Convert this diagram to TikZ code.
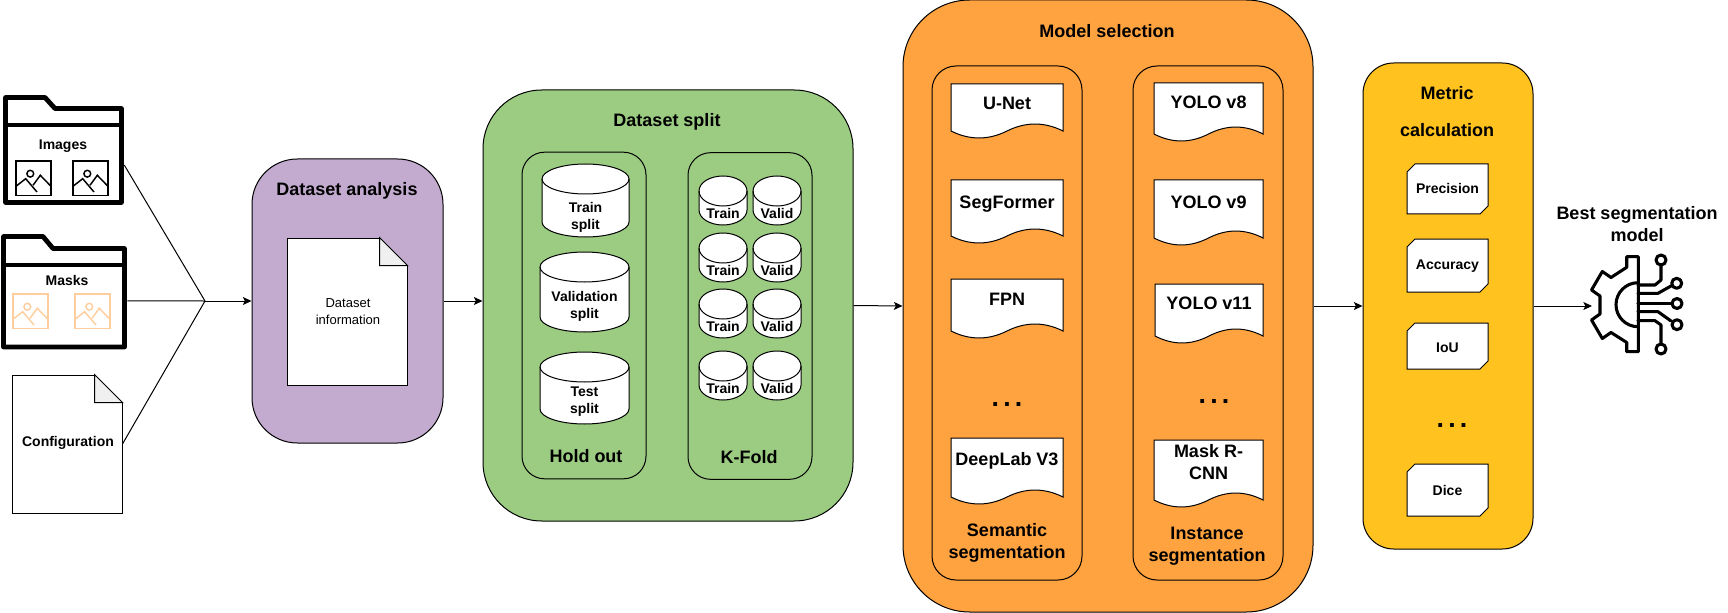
\documentclass[tikz,border=0pt]{standalone}
\usepackage{fontspec}
\setmainfont{Liberation Sans}
\usetikzlibrary{arrows.meta,shapes.misc}

\definecolor{analysisfill}{HTML}{C3ABD0}
\definecolor{splitfill}{HTML}{9BCC82}
\definecolor{modelfill}{HTML}{FFA240}
\definecolor{metricfill}{HTML}{FFC21E}
\definecolor{foldgray}{HTML}{F0F0F0}
\definecolor{maskicon}{HTML}{FFCE9F}

\tikzset{
  boxline/.style={draw=black,line width=0.75pt},
  conn/.style={draw=black,line width=0.75pt},
  arrowconn/.style={conn,-{Stealth[length=6.5pt,width=6pt,inset=1.5pt]}},
  stage/.style={boxline,rectangle,inner sep=0pt},
  subbox/.style={stage,rounded corners=17pt,minimum width=93pt,minimum height=245pt},
  segbox/.style={stage,rounded corners=18pt,minimum width=112.5pt,minimum height=385.5pt},
  bigtext/.style={font=\fontsize{13.5}{16.5}\selectfont\bfseries,align=center,inner sep=0pt},
  smalltext/.style={font=\fontsize{10.5}{12.75}\selectfont\bfseries,align=center,inner sep=0pt},
  dottext/.style={font=\fontsize{20}{22}\selectfont\bfseries,inner sep=0pt,anchor=base},
  notebody/.style={boxline,fill=white,rectangle,inner sep=0pt},
  metriccard/.style={boxline,fill=white,chamfered rectangle,
    chamfered rectangle corners={north west,south east},chamfered rectangle sep=9pt,
    inner sep=0pt,minimum width=60.75pt},
  foldershape/.style={draw=black,line width=3.6pt,line join=round},
  iconline/.style={line width=1.1pt},
  gearline/.style={draw=black,line width=2.3pt,line join=round,line cap=round}
}

% folder outline: x left, x right, tab top, body top, divider, bottom, tab end
\newcommand{\drawfolder}[7]{
  \draw[foldershape] (#1,#3) -- (#7,#3) -- ({#7+10},#4) -- (#2,#4) -- (#2,#6) -- (#1,#6) -- cycle;
  \draw[foldershape] (#1,#5) -- (#2,#5);
}
% small picture icon: x, y, colour
\newcommand{\drawicon}[3]{
  \begin{scope}[shift={(#1,#2)},iconline,draw=#3]
    \draw (0,0) rectangle (35,34.5);
    \draw (14.3,12.7) circle (3.4);
    \draw (0,25.3) -- (9.7,17.7) -- (21,31);
    \draw (17,24.3) -- (24.3,14.3) -- (35,25.3);
  \end{scope}
}
% folded corner of a note: node, colour behind it
\newcommand{\notefold}[2]{
  \fill[#2] ([shift={(-28,-1.5)}]#1.north east) rectangle ([shift={(1.5,28)}]#1.north east);
  \draw[boxline,fill=foldgray] ([xshift=-21pt]#1.north east) -- ([yshift=-21pt]#1.north east)
    -- ([shift={(-28,28)}]#1.north east) -- cycle;
}
% cylinder: name, x left, x right, y top, y bottom, text, y text
\newcommand{\drawdb}[7]{
  \draw[boxline,fill=white] (#2,{#4+15}) arc[start angle=180,end angle=360,x radius={(#3-#2)/2},y radius=15]
    -- (#3,{#5-15}) arc[start angle=0,end angle=180,x radius={(#3-#2)/2},y radius=15] -- cycle;
  \draw[boxline] (#2,{#4+15}) arc[start angle=180,end angle=0,x radius={(#3-#2)/2},y radius=15];
  \node[smalltext] (#1) at ({(#2+#3)/2},#7) {#6};
}
% wavy document: name, x left, x right, y top, y bottom, text, y text
\newcommand{\drawdoc}[7]{
  \draw[boxline,fill=white] (#2,#4) -- (#3,#4) -- (#3,{#5-7})
    .. controls ({#3-(#3-#2)/6},{#5-16.3}) and ({#3-(#3-#2)/3},{#5-16.3}) .. ({(#2+#3)/2},{#5-7})
    .. controls ({#2+(#3-#2)/3},{#5+2.3}) and ({#2+(#3-#2)/6},{#5+2.3}) .. (#2,{#5-7}) -- cycle;
  \node[bigtext] (#1) at ({(#2+#3)/2},#7) {#6};
}
\newcommand{\threedots}{.\kern3.2pt.\kern3.2pt.}

\begin{document}
\begin{tikzpicture}[x=0.75pt,y=-0.75pt]
  \useasboundingbox (0,0) rectangle (1728,613);

  % input folders
  \node[minimum width=90.75pt,minimum height=82.5pt,inner sep=0pt] (images) at (63.5,150) {};
  \drawfolder{5.5}{121.5}{97.5}{108.5}{125}{202.5}{45}
  \node[smalltext] (imagesText) at (63,146.5) {Images};
  \drawicon{16}{161}{black}
  \drawicon{73}{161}{black}

  \node[minimum width=94.5pt,minimum height=86.25pt,inner sep=0pt] (masks) at (64,291.5) {};
  \drawfolder{3.5}{124.5}{236.5}{248.5}{265}{347}{43}
  \node[smalltext] (masksText) at (67,280) {Masks};
  \drawicon{13}{294}{maskicon}
  \drawicon{75}{294}{maskicon}

  \node[notebody,smalltext,minimum width=82.5pt,minimum height=103.5pt] (config) at (67,444) {};
  \notefold{config}{white}
  \node[smalltext] (configText) at (68,442.5) {Configuration};

  % dataset analysis
  \node[stage,fill=analysisfill,rounded corners=34pt,minimum width=143.25pt,minimum height=213pt] (analysis) at (347.5,301) {};
  \node[bigtext] (analysisTitle) at (347,191) {Dataset analysis};
  \node[notebody,minimum width=90pt,minimum height=110.25pt] (info) at (347,311.5) {};
  \notefold{info}{analysisfill}
  \node[align=center,inner sep=0pt,font=\fontsize{9.75}{12.75}\selectfont] (infoText) at (348,312) {Dataset\\information};

  % dataset split
  \node[stage,fill=splitfill,rounded corners=44pt,minimum width=277.5pt,minimum height=323.25pt] (split) at (668,305.5) {};
  \node[bigtext] (splitTitle) at (667,122) {Dataset split};
  \node[subbox] (holdout) at (584,315.5) {};
  \node[subbox] (kfold) at (750,316) {};
  \drawdb{trainSplit}{542}{629}{164}{237}{Train\\split}{217.5}
  \drawdb{validSplit}{540}{629}{252}{332}{Validation\\split}{306.5}
  \drawdb{testSplit}{540}{629}{352}{424}{Test\\split}{401.5}
  \node[bigtext] (holdoutText) at (586,456) {Hold out};
  % routine for folds
  \drawdb{trainA}{699}{747}{176}{225}{Train}{213}
  \drawdb{validA}{753}{801}{176}{225}{Valid}{213}
  \drawdb{trainB}{699}{747}{233}{282}{Train}{270}
  \drawdb{validB}{753}{801}{233}{282}{Valid}{270}
  \drawdb{trainC}{699}{747}{289}{338}{Train}{326}
  \drawdb{validC}{753}{801}{289}{338}{Valid}{326}
  \drawdb{trainD}{699}{747}{351}{400}{Train}{388}
  \drawdb{validD}{753}{801}{351}{400}{Valid}{388}
  \node[bigtext] (kfoldText) at (749,457) {K-Fold};

  % model selection
  \node[stage,fill=modelfill,rounded corners=50pt,minimum width=307.5pt,minimum height=459pt] (model) at (1108,306) {};
  \node[bigtext] (modelTitle) at (1107,31) {Model selection};
  \node[segbox] (semantic) at (1007,323) {};
  \node[segbox] (instance) at (1208,323) {};
  \drawdoc{unet}{951}{1063}{84}{138}{U-Net}{103}
  \drawdoc{segformer}{951}{1063}{180}{243}{SegFormer}{204}
  \drawdoc{fpn}{951}{1063}{279}{338}{FPN}{299}
  \node[dottext] (semDots) at (1007,406) {\threedots};
  \drawdoc{deeplab}{951}{1063}{438}{504}{DeepLab V3}{461}
  \node[bigtext] (semanticText) at (1007,542.5) {Semantic\\segmentation};
  \drawdoc{yoloA}{1154}{1263}{83}{141}{YOLO v8}{102.5}
  \drawdoc{yoloB}{1154}{1263}{180}{245}{YOLO v9}{202}
  \drawdoc{yoloC}{1155}{1263}{284}{343}{YOLO v11}{303}
  \node[dottext] (insDots) at (1214,403) {\threedots};
  \drawdoc{maskrcnn}{1154}{1263}{440}{507}{Mask R-\\CNN}{462.5}
  \node[bigtext] (instanceText) at (1207,546) {Instance\\segmentation};

  % metric calculation
  \node[stage,fill=metricfill,rounded corners=23pt,minimum width=127.5pt,minimum height=364.5pt] (metric) at (1448,306) {};
  \node[bigtext] (metricTitleA) at (1447,93) {Metric};
  \node[bigtext] (metricTitleB) at (1447,130) {calculation};
  \node[metriccard,minimum height=37.5pt] (precision) at (1447.5,189) {\strut};
  \node[smalltext] (precisionText) at (1447.5,188) {Precision};
  \node[metriccard,minimum height=39.75pt] (accuracy) at (1447.5,265.5) {\strut};
  \node[smalltext] (accuracyText) at (1447.5,266) {Accuracy};
  \node[metriccard,minimum height=34.5pt] (iou) at (1447.5,346) {\strut};
  \node[smalltext] (iouText) at (1447.5,348) {IoU};
  \node[dottext] (metricDots) at (1452,427) {\threedots};
  \node[metriccard,minimum height=39pt] (dice) at (1447.5,490) {\strut};
  \node[smalltext] (diceText) at (1447.5,490) {Dice};

  % best model
  \node[bigtext] (bestText) at (1637,224) {Best segmentation\\model};
  \coordinate (gearIn) at (1592,306);
  \draw[gearline] (1638.3,256.7) -- (1626.7,256.7) -- (1626.7,267.3) -- (1611,277.5) -- (1602.3,271.5)
    -- (1591.5,290) -- (1600,296) -- (1600,314) -- (1591.5,320) -- (1602.3,338.5) -- (1611,332.5)
    -- (1626.7,342.5) -- (1626.7,351.7) -- (1638.3,351.7) -- cycle;
  \draw[gearline] (1638,282.7) arc[start angle=270,end angle=90,radius=22];
  \draw[gearline] (1638,285) -- (1655,285) -- (1661,280) -- (1661,265);
  \draw[gearline] (1661,260) circle (5);
  \draw[gearline] (1638,293.3) -- (1658,293.3) -- (1671,286);
  \draw[gearline] (1676.7,283.3) circle (5);
  \draw[gearline] (1638,303.5) -- (1672,303.5);
  \draw[gearline] (1677,303.5) circle (5);
  \draw[gearline] (1638,311.7) -- (1658,311.7) -- (1671,321);
  \draw[gearline] (1677,324.7) circle (5);
  \draw[gearline] (1638,320.7) -- (1655,320.7) -- (1661,325) -- (1661,344);
  \draw[gearline] (1661,349) circle (5);

  % connectors
  \coordinate (joint) at (205,301);
  \draw[conn] ([yshift=-11.25pt]images.east) -- (joint);
  \draw[conn] ([yshift=-7.1pt]masks.east) -- (joint);
  \draw[conn] (config.east) -- (joint);
  \draw[arrowconn] (joint) -- (analysis.west);
  \draw[arrowconn] (analysis.east) -- (analysis.east -| split.west);
  \draw[arrowconn] (split.east) -- (model.west);
  \draw[arrowconn] (model.east) -- (metric.west);
  \draw[arrowconn] (metric.east) -- (gearIn);
\end{tikzpicture}
\end{document}
